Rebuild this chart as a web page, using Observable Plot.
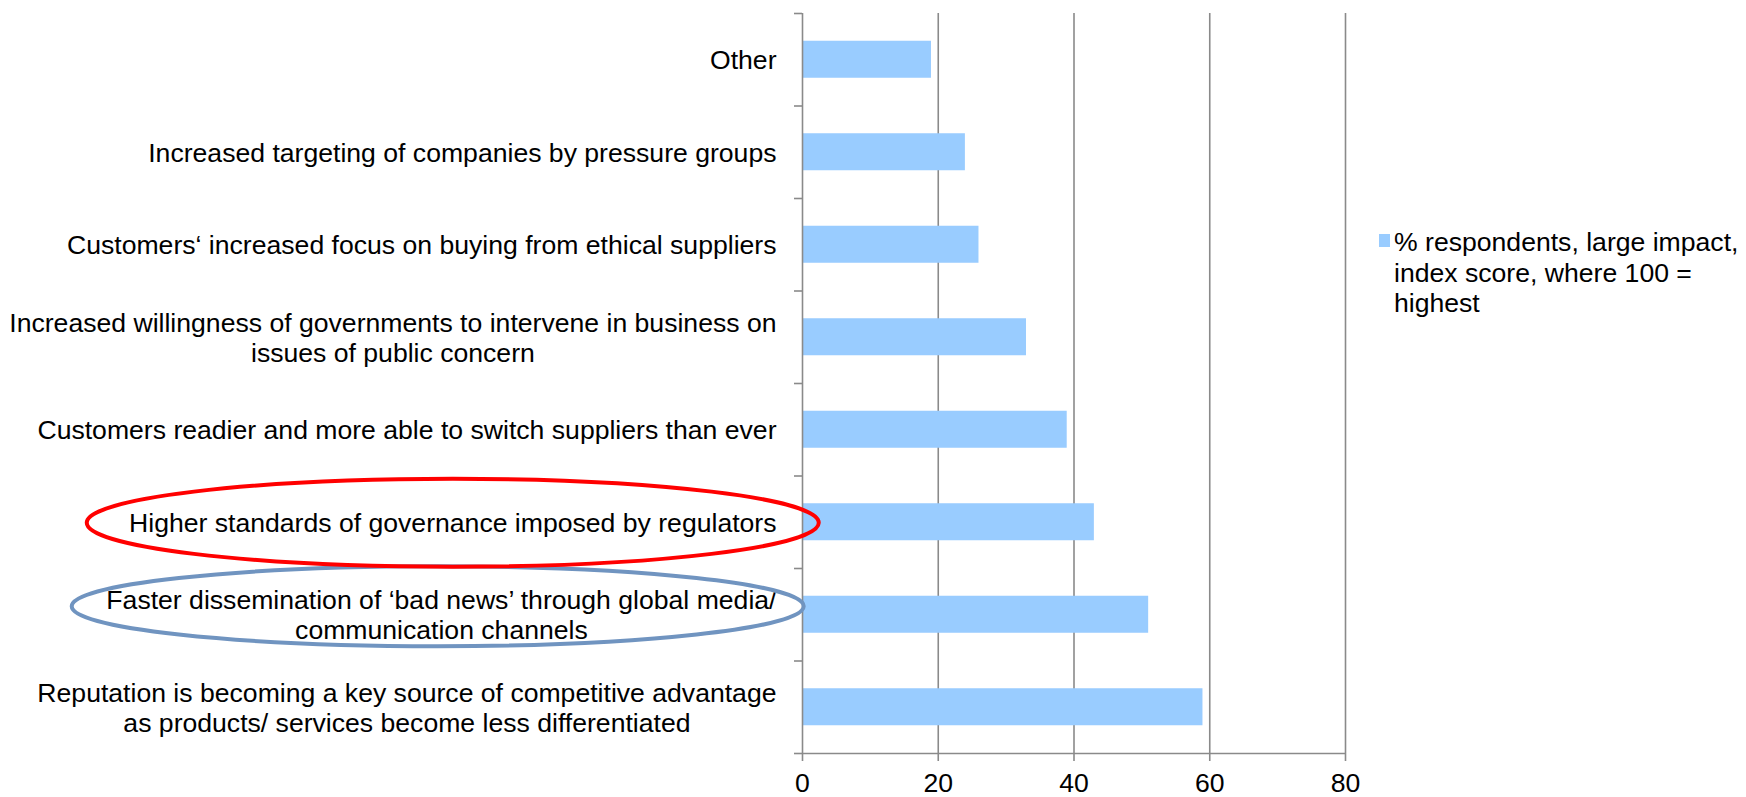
<!DOCTYPE html>
<html>
<head>
<meta charset="utf-8">
<script src="https://cdn.jsdelivr.net/npm/d3@7"></script>
<script src="https://cdn.jsdelivr.net/npm/@observablehq/plot@0.6"></script>
<style>
  html, body { margin: 0; padding: 0; background: #fff; }
  #wrap { position: relative; width: 1746px; height: 797px; font-family: "Liberation Sans", Arial, sans-serif; }
  #legend { position: absolute; left: 1379px; top: 227px; font-size: 26.6px; line-height: 30.6px; color: #000; }
  #legend .sw { position: absolute; left: 0; top: 7px; width: 11px; height: 13px; background: #99ccff; }
  #legend .tx { position: absolute; left: 15px; top: 0; white-space: nowrap; }
</style>
</head>
<body>
<div id="wrap"></div>
<script>
// ---- data ----
const categories = [
  "Other",
  "Increased targeting of companies by pressure groups",
  "Customers\u2018 increased focus on buying from ethical suppliers",
  "Increased willingness of governments to intervene in business on\nissues of public concern",
  "Customers readier and more able to switch suppliers than ever",
  "Higher standards of governance imposed by regulators",
  "Faster dissemination of \u2018bad news\u2019 through global media/\ncommunication channels",
  "Reputation is becoming a key source of competitive advantage\nas products/ services become less differentiated"
];
const values = [19, 24, 26, 33, 39, 43, 51, 59];
const xTicks = [0, 20, 40, 60, 80];
const legendLines = ["% respondents, large impact,", "index score, where 100 =", "highest"];
const highlighted = [
  {category: categories[5], color: "#ff0000"},
  {category: categories[6], color: "#7094c0"}
];

// ---- chart ----
const data = categories.map((c, i) => ({category: c, value: values[i], index: i}));
const grey = "#8a8a8a";
const n = categories.length;

const plot = Plot.plot({
  width: 1746,
  height: 797,
  marginLeft: 802,
  marginRight: 401,
  marginTop: 13,
  marginBottom: 44,
  style: {fontFamily: '"Liberation Sans", Arial, sans-serif', fontSize: "26.6px", color: "#000", background: "#fff", overflow: "visible"},
  x: {domain: [0, 80], label: null},
  y: {domain: [0, n], reverse: true, label: null},
  marks: [
    Plot.gridX({ticks: xTicks.filter(d => d > 0), stroke: grey, strokeOpacity: 1, strokeWidth: 1.6}),
    Plot.rect(data, {x1: 0, x2: "value", y1: d => d.index + 0.3, y2: d => d.index + 0.7, fill: "#99ccff"}),
    Plot.ruleX([0], {stroke: grey, strokeWidth: 1.6}),
    Plot.ruleY([n], {stroke: grey, strokeWidth: 1.6}),
    Plot.axisX({ticks: xTicks, tickSize: 8, tickPadding: 12, stroke: grey, strokeWidth: 1.6, fill: "#000", tickFormat: d => String(d), label: null}),
    Plot.axisY({ticks: d3.range(0, n + 1), tickSize: 8, tickFormat: () => "", stroke: grey, strokeWidth: 1.6, label: null}),
    Plot.axisY({ticks: categories.map((c, i) => i + 0.5), tickSize: 0, tickPadding: 26, lineHeight: 1.13, fill: "#000",
      tickFormat: t => categories[Math.floor(t)], label: null})
  ]
});

const wrap = document.getElementById("wrap");
wrap.appendChild(plot);

// center the lines of multi-line category labels (as in the original)
d3.select(plot).selectAll("text").each(function() {
  const tspans = Array.from(this.querySelectorAll("tspan"));
  if (tspans.length > 1) {
    const maxW = d3.max(tspans, t => t.getComputedTextLength());
    this.setAttribute("text-anchor", "middle");
    tspans.forEach(t => t.setAttribute("x", -maxW / 2));
  }
});

// highlight ellipses around two labels
const yS = plot.scale("y");
const svgRect = plot.getBoundingClientRect();
function labelCenterX(cat) {
  let cx = null;
  const first = cat.split("\n")[0];
  d3.select(plot).selectAll("text").each(function() {
    if (this.textContent.startsWith(first)) {
      const r = this.getBoundingClientRect();
      cx = r.left - svgRect.left + r.width / 2;
    }
  });
  return cx;
}
const ellipseSpecs = [
  {h: highlighted[1], dy: -8, dx: -4, rx: 366, ry: 40},
  {h: highlighted[0], dy: 1, dx: 0, rx: 366, ry: 44}
];
ellipseSpecs.forEach(s => {
  const idx = categories.indexOf(s.h.category);
  d3.select(plot).append("ellipse")
    .attr("cx", labelCenterX(s.h.category) + s.dx)
    .attr("cy", yS.apply(idx + 0.5) + s.dy)
    .attr("rx", s.rx)
    .attr("ry", s.ry)
    .attr("fill", "none")
    .attr("stroke", s.h.color)
    .attr("stroke-width", 4);
});

// legend
const legend = document.createElement("div");
legend.id = "legend";
legend.innerHTML = '<div class="sw"></div><div class="tx"></div>';
legend.querySelector(".tx").innerHTML = legendLines.map(l => l.replace(/&/g, "&amp;").replace(/</g, "&lt;")).join("<br>");
wrap.appendChild(legend);
</script>
</body>
</html>
